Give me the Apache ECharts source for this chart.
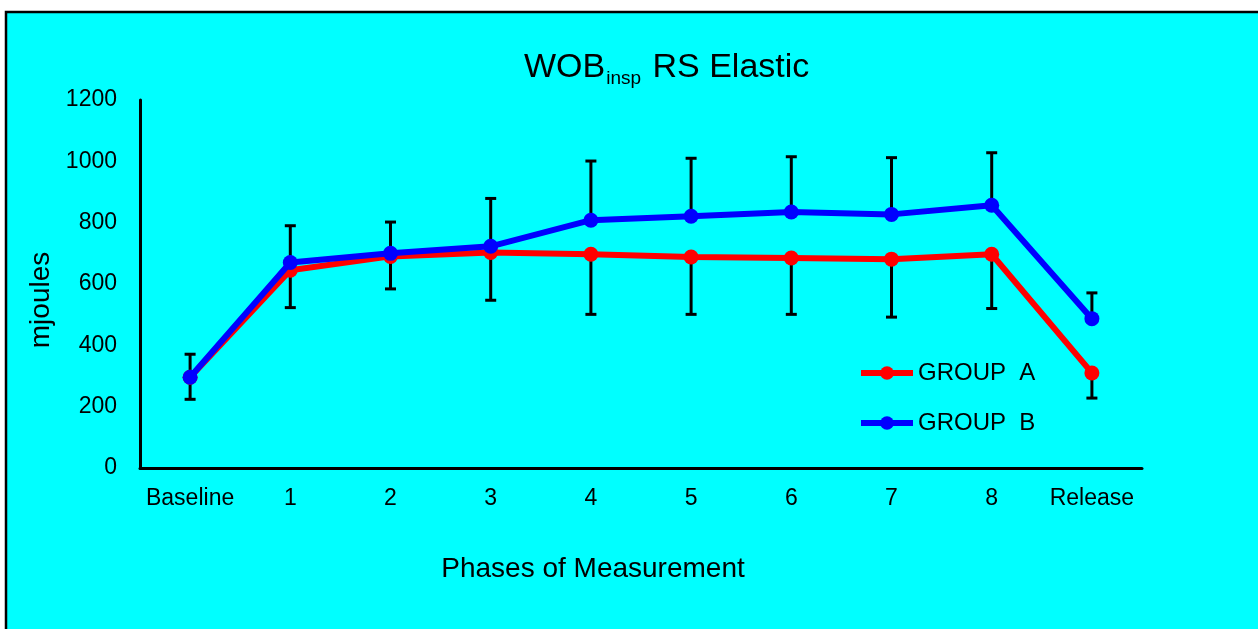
<!DOCTYPE html>
<html>
<head>
<meta charset="utf-8">
<script src="https://cdn.jsdelivr.net/npm/echarts@6/dist/echarts.min.js"></script>
<style>
html,body{margin:0;padding:0;background:#fff;}
#c{width:1258px;height:629px;}
</style>
</head>
<body>
<div id="c"></div>
<script>
var categories = ['Baseline', '1', '2', '3', '4', '5', '6', '7', '8', 'Release'];
var groupA = [296, 645, 690, 703, 697, 688, 685, 681, 697, 310];
var groupB = [296, 670, 700, 723, 808, 821, 835, 827, 857, 487];
var sdA = [72, 122, 106, 156, 196, 187, 184, 189, 177, 82];
var sdB = [75, 120, 102, 156, 193, 189, 180, 185, 171, 84];
var yTicks = [0, 200, 400, 600, 800, 1000, 1200];

var errA = groupA.map(function (v, i) { return [i, v - sdA[i], v]; });
var errB = groupB.map(function (v, i) { return [i, v, v + sdB[i]]; });

function renderErr(params, api) {
  var x = api.value(0);
  var lo = api.coord([x, api.value(1)]);
  var hi = api.coord([x, api.value(2)]);
  var w = 5.5;
  var st = { stroke: '#000', lineWidth: 3 };
  return {
    type: 'group',
    children: [
      { type: 'line', shape: { x1: lo[0], y1: lo[1], x2: hi[0], y2: hi[1] }, style: st },
      { type: 'line', shape: { x1: lo[0] - w, y1: lo[1], x2: lo[0] + w, y2: lo[1] }, style: st },
      { type: 'line', shape: { x1: hi[0] - w, y1: hi[1], x2: hi[0] + w, y2: hi[1] }, style: st }
    ]
  };
}

var font = 'Arial, "Liberation Sans", sans-serif';
var chart = echarts.init(document.getElementById('c'));
chart.setOption({
  backgroundColor: '#fff',
  animation: false,
  graphic: [{
    type: 'rect', z: -10, silent: true,
    shape: { x: 6, y: 12, width: 1300, height: 700 },
    style: { fill: '#00FFFF', stroke: '#000', lineWidth: 2.5 }
  }],
  title: {
    text: '{a|WOB}{s|insp}{a| RS Elastic}',
    left: 519, top: 43,
    textStyle: {
      fontWeight: 'normal',
      rich: {
        a: { fontSize: 34, fontFamily: font, fontWeight: 'normal', color: '#000', lineHeight: 40 },
        s: { fontSize: 19, fontFamily: font, fontWeight: 'normal', color: '#000', lineHeight: 20, verticalAlign: 'bottom', padding: [0, 2, 0, 1] }
      }
    }
  },
  grid: { left: 140, right: 116, top: 100, bottom: 161, containLabel: false },
  legend: {
    orient: 'vertical', left: 858, top: 361, itemGap: 26, padding: 0,
    itemWidth: 52, itemHeight: 17,
    lineStyle: { width: 6 },
    textStyle: { fontSize: 24, fontFamily: font, color: '#000' },
    data: ['GROUP  A', 'GROUP  B']
  },
  xAxis: {
    type: 'category', data: categories, boundaryGap: true,
    name: 'Phases of Measurement', nameLocation: 'middle', nameGap: 87,
    nameTextStyle: { fontSize: 28, fontFamily: font, color: '#000', padding: [0, 96, 0, 0] },
    axisLine: { lineStyle: { color: '#000', width: 3 } },
    axisTick: { show: false },
    axisLabel: { fontSize: 23, fontFamily: font, color: '#000', margin: 19, interval: 0 },
    splitLine: { show: false }
  },
  yAxis: {
    type: 'value', min: 0, max: 1200, interval: 200,
    name: 'mjoules', nameLocation: 'middle', nameGap: 76, nameRotate: 90,
    nameTextStyle: { fontSize: 28, fontFamily: font, color: '#000', padding: [0, 32, 0, 0] },
    axisLine: { show: true, lineStyle: { color: '#000', width: 3 } },
    axisTick: { show: false },
    axisLabel: {
      fontSize: 23, fontFamily: font, color: '#000', margin: 23,
      formatter: function (v) { return yTicks.indexOf(v) >= 0 ? String(v) : ''; }
    },
    splitLine: { show: false }
  },
  series: [
    { name: 'errA', type: 'custom', data: errA, renderItem: renderErr, z: 1, silent: true },
    { name: 'errB', type: 'custom', data: errB, renderItem: renderErr, z: 1, silent: true },
    {
      name: 'GROUP  A', type: 'line', data: groupA, z: 3,
      symbol: 'circle', symbolSize: 15,
      lineStyle: { color: '#FF0000', width: 6 },
      itemStyle: { color: '#FF0000' }
    },
    {
      name: 'GROUP  B', type: 'line', data: groupB, z: 4,
      symbol: 'circle', symbolSize: 15,
      lineStyle: { color: '#0000FF', width: 6 },
      itemStyle: { color: '#0000FF' }
    }
  ]
});
</script>
</body>
</html>
